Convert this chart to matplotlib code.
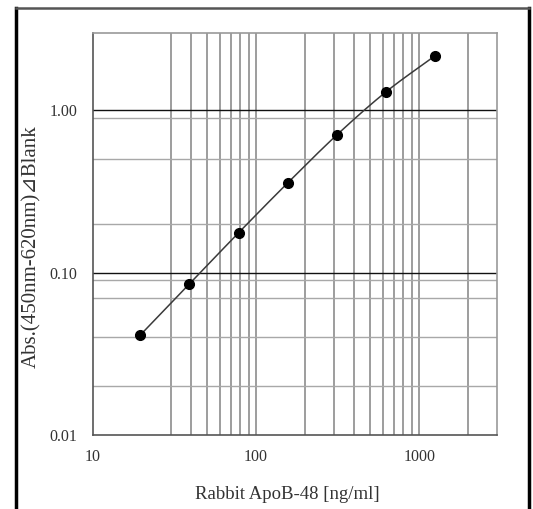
import numpy as np
import matplotlib.pyplot as plt
from matplotlib.lines import Line2D

# standard curve
conc = [19.5, 39, 78, 156, 312.5, 625, 1250]
absorb = [0.0413, 0.0852, 0.176, 0.357, 0.706, 1.30, 2.17]

x_grid = [30, 40, 50, 60, 70, 80, 90, 100, 200, 300, 400, 500, 600, 700, 800, 900, 1000, 2000]
y_grid_light = [0.9, 0.5, 0.2, 0.09, 0.07, 0.04, 0.02]
y_grid_dark = [1.0, 0.1]
x_ticks = [10, 100, 1000]
x_ticklabels = ['10', '100', '1000']
y_ticks = [0.01, 0.1, 1.0]
y_ticklabels = ['0.01', '0.10', '1.00']

serif = ['Liberation Serif', 'DejaVu Serif', 'DejaVu Sans']
txt = '#333333'


def smooth(xs, ys, n=30):
    # catmull-rom through the points, in log-log space (like excel's smoothed line)
    lx = np.log10(xs)
    ly = np.log10(ys)
    px = np.concatenate([[2 * lx[0] - lx[1]], lx, [2 * lx[-1] - lx[-2]]])
    py = np.concatenate([[2 * ly[0] - ly[1]], ly, [2 * ly[-1] - ly[-2]]])
    outx, outy = [], []
    for i in range(1, len(px) - 2):
        t = np.linspace(0, 1, n)
        for p, out in ((px, outx), (py, outy)):
            p0, p1, p2, p3 = p[i - 1], p[i], p[i + 1], p[i + 2]
            out.extend(0.5 * (2 * p1 + (-p0 + p2) * t + (2 * p0 - 5 * p1 + 4 * p2 - p3) * t ** 2
                              + (-p0 + 3 * p1 - 3 * p2 + p3) * t ** 3))
    return 10 ** np.array(outx), 10 ** np.array(outy)


fig = plt.figure(figsize=(5.33, 5.09), dpi=100)
ax = fig.add_axes([0.1745, 0.1454, 0.758, 0.7898])
ax.set_xscale('log')
ax.set_yscale('log')
ax.set_xlim(10, 3000)
ax.set_ylim(0.01, 3)

for xv in x_grid:
    ax.axvline(xv, color='#8c8c8c', lw=1.2, zorder=1)
for yv in y_grid_light:
    ax.axhline(yv, color='#a8a8a8', lw=1.0, zorder=1)
for yv in y_grid_dark:
    ax.axhline(yv, color='#111111', lw=1.0, zorder=1)

sx, sy = smooth(conc, absorb)
ax.plot(sx, sy, color='#3a3a3a', lw=1.1, zorder=2)
ax.plot(conc, absorb, 'o', color='black', ms=7, zorder=3)

ax.set_xticks(x_ticks)
ax.set_xticklabels(x_ticklabels)
ax.set_yticks(y_ticks)
ax.set_yticklabels(y_ticklabels)
ax.minorticks_off()
ax.tick_params(length=0, labelsize=11.5, labelcolor=txt)
ax.tick_params(axis='x', pad=10)
ax.tick_params(axis='y', pad=11)
for lab in ax.get_xticklabels() + ax.get_yticklabels():
    lab.set_family(serif)

for s in ax.spines.values():
    s.set_color('#999999')
    s.set_linewidth(1.2)
ax.spines['left'].set_color('#555555')
ax.spines['bottom'].set_color('#555555')

ax.set_xlabel('Rabbit ApoB-48 [ng/ml]', family=serif, fontsize=13.5, color=txt)
ax.set_ylabel('Abs.(450nm-620nm)\u22bfBlank', family=serif, fontsize=15, color=txt)
ax.xaxis.set_label_coords(0.48, -0.127)
ax.yaxis.set_label_coords(-0.128, 0.468)

# outer frame (bottom edge is cut off in the reference)
W, H = 533, 509
fig.add_artist(Line2D([15.5 / W, 15.5 / W], [-0.1, 1 - 8 / H], color='black', lw=2.5))
fig.add_artist(Line2D([528.5 / W, 528.5 / W], [-0.1, 1 - 8 / H], color='black', lw=2.5))
fig.add_artist(Line2D([15.5 / W, 528.5 / W], [1 - 8 / H, 1 - 8 / H], color='#555555', lw=1.8))

fig.savefig('out.png', dpi=100)
